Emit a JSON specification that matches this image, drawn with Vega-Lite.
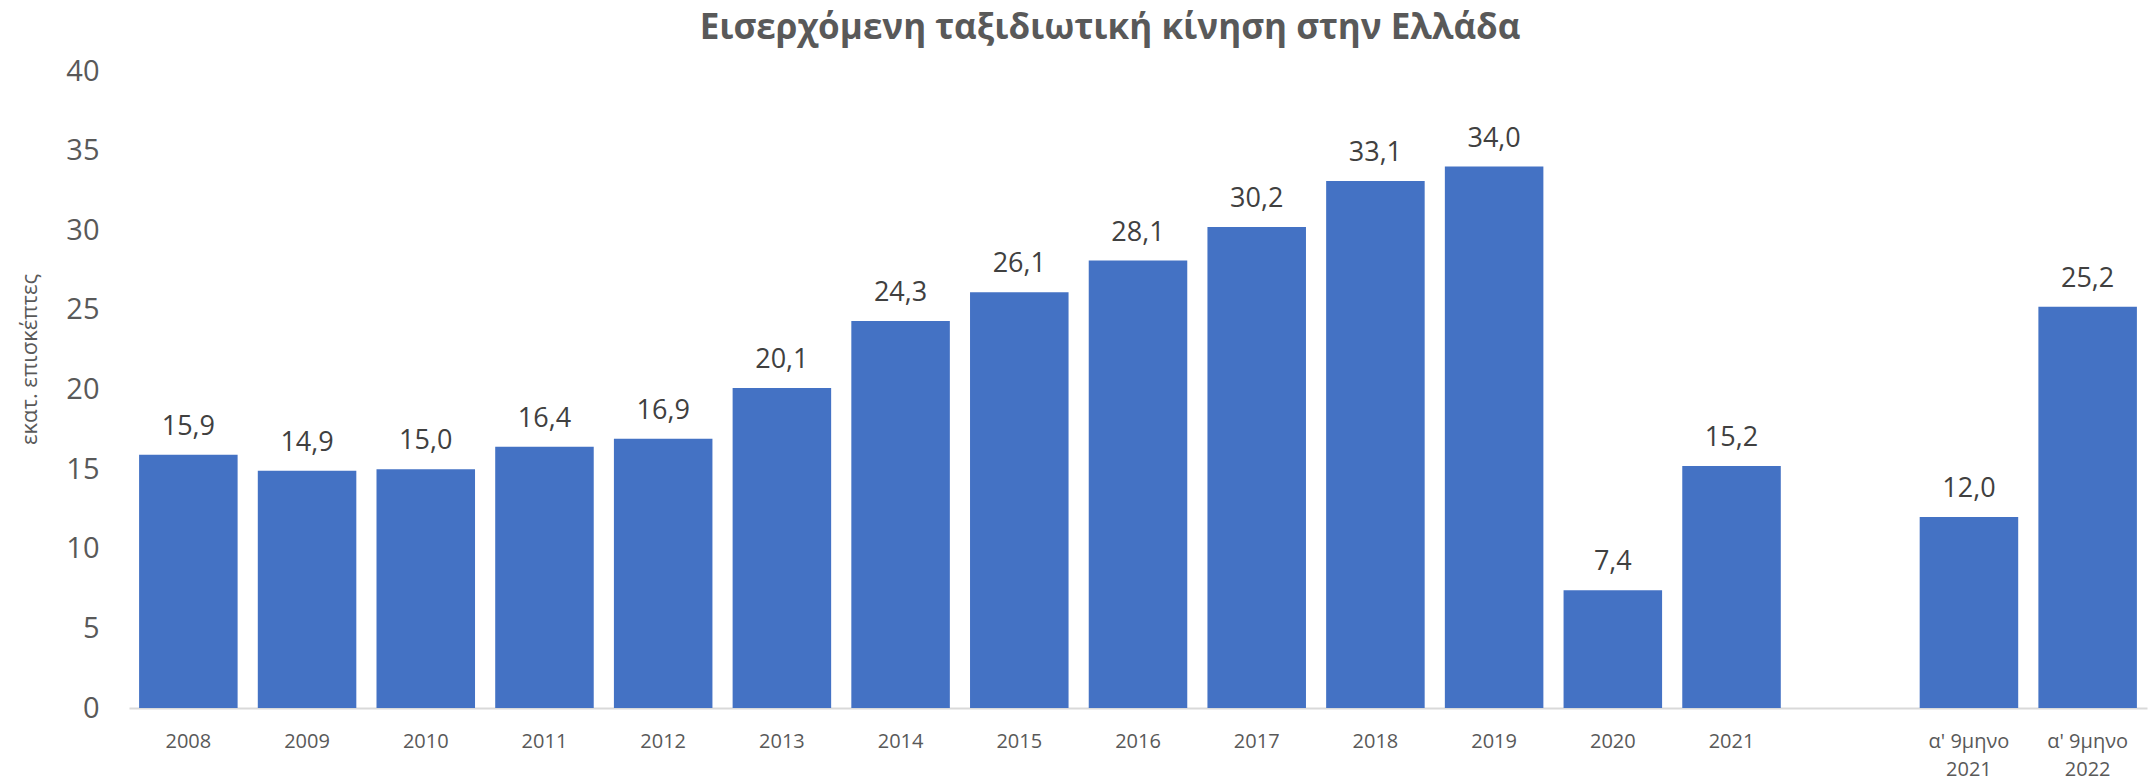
{
  "$schema": "https://vega.github.io/schema/vega-lite/v6.json",
  "width": 2018,
  "height": 637,
  "autosize": {"type": "none"},
  "padding": {"left": 129, "top": 71, "right": 2, "bottom": 72},
  "background": "white",
  "config": {
    "locale": {"number": {"decimal": ",", "thousands": ".", "grouping": [3], "currency": ["", " €"]}},
    "view": {"stroke": null},
    "font": "Open Sans"
  },
  "title": {
    "text": "Εισερχόμενη ταξιδιωτική κίνηση στην Ελλάδα",
    "font": "Open Sans",
    "fontSize": 35,
    "fontWeight": "bold",
    "color": "#595959",
    "anchor": "middle",
    "dx": -28,
    "offset": 11
  },
  "data": {
    "values": [
      {"cat": "2008", "value": 15.9},
      {"cat": "2009", "value": 14.9},
      {"cat": "2010", "value": 15.0},
      {"cat": "2011", "value": 16.4},
      {"cat": "2012", "value": 16.9},
      {"cat": "2013", "value": 20.1},
      {"cat": "2014", "value": 24.3},
      {"cat": "2015", "value": 26.1},
      {"cat": "2016", "value": 28.1},
      {"cat": "2017", "value": 30.2},
      {"cat": "2018", "value": 33.1},
      {"cat": "2019", "value": 34.0},
      {"cat": "2020", "value": 7.4},
      {"cat": "2021", "value": 15.2},
      {"cat": "α' 9μηνο|2021", "value": 12.0},
      {"cat": "α' 9μηνο|2022", "value": 25.2}
    ]
  },
  "encoding": {
    "x": {
      "field": "cat",
      "type": "nominal",
      "sort": null,
      "scale": {
        "domain": ["2008", "2009", "2010", "2011", "2012", "2013", "2014", "2015", "2016", "2017", "2018", "2019", "2020", "2021", " ", "α' 9μηνο|2021", "α' 9μηνο|2022"],
        "paddingInner": 0.17,
        "paddingOuter": 0.085
      },
      "axis": {
        "title": null,
        "labelAngle": 0,
        "labelFont": "Open Sans",
        "labelFontSize": 20,
        "labelColor": "#595959",
        "labelPadding": 23,
        "labelBaseline": "top",
        "labelLineHeight": 28,
        "labelExpr": "split(datum.label, '|')",
        "ticks": false,
        "domainColor": "#d9d9d9",
        "domainWidth": 2
      }
    },
    "y": {
      "field": "value",
      "type": "quantitative",
      "scale": {"domain": [0, 40]},
      "axis": {
        "title": "εκατ. επισκέπτες",
        "titleFont": "Open Sans",
        "titleFontSize": 22,
        "titleFontWeight": "normal",
        "titleColor": "#595959",
        "titleAngle": -90,
        "titleX": -100,
        "titleY": 288,
        "titleAlign": "center",
        "titleBaseline": "middle",
        "values": [0, 5, 10, 15, 20, 25, 30, 35, 40],
        "labelFont": "Open Sans",
        "labelFontSize": 29,
        "labelColor": "#595959",
        "labelPadding": 30,
        "ticks": false,
        "domain": false,
        "grid": false
      }
    }
  },
  "layer": [
    {"mark": {"type": "bar", "color": "#4472C4"}},
    {
      "mark": {"type": "text", "dy": -20, "baseline": "alphabetic", "fontSize": 27, "color": "#404040", "font": "Open Sans"},
      "encoding": {"text": {"field": "value", "type": "quantitative", "format": ".1f"}}
    }
  ]
}
